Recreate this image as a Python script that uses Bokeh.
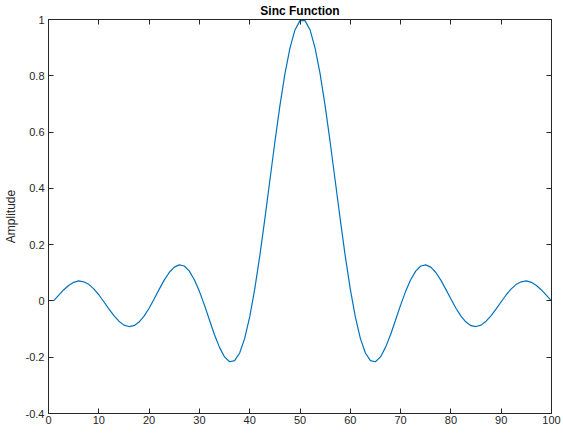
from bokeh.plotting import figure
from bokeh.models import Range1d, FixedTicker, LinearAxis, ColumnDataSource
from bokeh.embed import file_html
from bokeh.resources import INLINE

# sample index 1..100
x_vals = list(range(1, 101))
half = [0.000, 0.020, 0.039, 0.055, 0.066, 0.071, 0.068, 0.059, 0.043, 0.022,
        -0.003, -0.028, -0.052, -0.072, -0.086, -0.091, -0.088, -0.075, -0.054, -0.026,
        0.007, 0.041, 0.074, 0.101, 0.120, 0.128, 0.124, 0.106, 0.075, 0.034,
        -0.015, -0.068, -0.120, -0.165, -0.199, -0.216, -0.212, -0.185, -0.133, -0.057,
        0.042, 0.159, 0.290, 0.427, 0.564, 0.693, 0.807, 0.898, 0.963, 0.996]
amplitude = half + half[::-1]

x_ticks = [0, 10, 20, 30, 40, 50, 60, 70, 80, 90, 100]
y_ticks = [-0.4, -0.2, 0, 0.2, 0.4, 0.6, 0.8, 1]
y_tick_labels = ["-0.4", "-0.2", "0", "0.2", "0.4", "0.6", "0.8", "1"]

AX = "#262626"
FONT = "Liberation Sans"

p = figure(frame_width=503, frame_height=394, x_range=Range1d(0, 100), y_range=Range1d(-0.4, 1),
           output_backend="svg", toolbar_location=None, title="Sinc Function",
           min_border_left=0, min_border_right=11, min_border_top=0, min_border_bottom=0)

src = ColumnDataSource(dict(x=x_vals, y=amplitude))
p.line("x", "y", source=src, line_color="#0072BD", line_width=1.2)

p.grid.visible = False
p.outline_line_color = AX
p.outline_line_width = 1
p.background_fill_color = "white"
p.border_fill_color = "white"

p.title.align = "center"
p.title.text_font = FONT
p.title.text_font_size = "12px"
p.title.text_font_style = "bold"
p.title.text_color = "black"
p.title.standoff = 3

def style(ax):
    ax.axis_line_color = AX
    ax.major_tick_line_color = AX
    ax.major_tick_in = 5
    ax.major_tick_out = 0
    ax.minor_tick_line_color = None
    ax.major_label_text_color = AX
    ax.major_label_text_font = FONT
    ax.major_label_text_font_size = "11px"
    ax.major_label_standoff = 3

xa = p.xaxis[0]
xa.ticker = FixedTicker(ticks=x_ticks)
style(xa)
xa.major_label_standoff = 2
ya = p.yaxis[0]
ya.ticker = FixedTicker(ticks=y_ticks)
ya.major_label_overrides = {t: l for t, l in zip(y_ticks, y_tick_labels)}
style(ya)
ya.major_label_standoff = 4
ya.axis_label = "Amplitude"
ya.axis_label_text_font = FONT
ya.axis_label_text_font_size = "12px"
ya.axis_label_text_font_style = "normal"
ya.axis_label_text_color = AX
ya.axis_label_standoff = 5

top = LinearAxis(ticker=FixedTicker(ticks=x_ticks))
style(top)
top.major_label_overrides = {t: "" for t in x_ticks}
top.major_label_standoff = 0
p.add_layout(top, "above")
right = LinearAxis(ticker=FixedTicker(ticks=y_ticks))
style(right)
right.major_label_overrides = {t: "" for t in y_ticks}
right.major_label_standoff = 0
p.add_layout(right, "right")

open("out.html", "w").write(file_html(p, INLINE))
